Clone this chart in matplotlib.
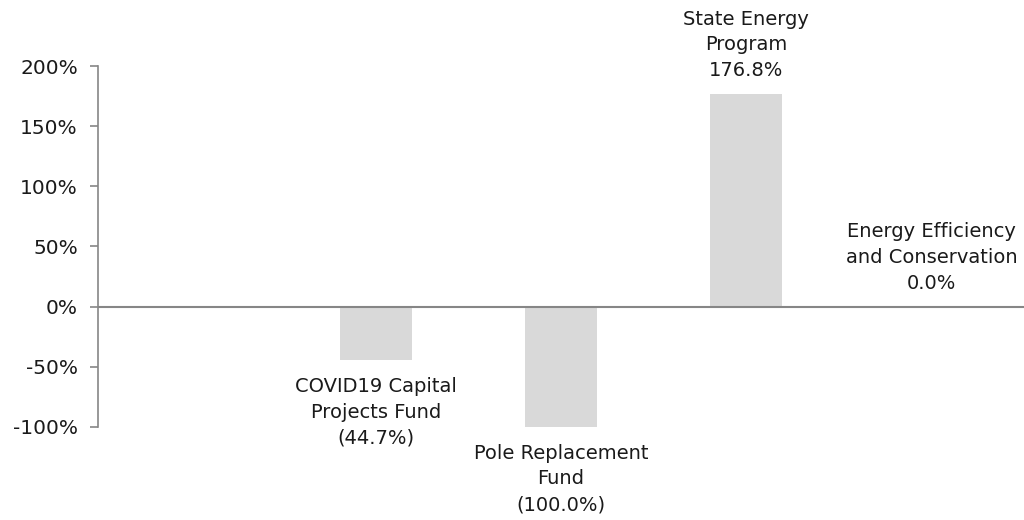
import matplotlib
matplotlib.use("Agg")
import matplotlib.pyplot as plt
from matplotlib.ticker import FuncFormatter

# Data
categories = ["COVID19 Capital\nProjects Fund", "Pole Replacement\nFund",
              "State Energy\nProgram", "Energy Efficiency\nand Conservation"]
pct_change = [-44.7, -100.0, 176.8, 0.0]
yticks = [-100, -50, 0, 50, 100, 150, 200]

plt.rcParams['font.family'] = ['DejaVu Sans']

fig = plt.figure(figsize=(10.24, 5.2), dpi=100)
ax = fig.add_axes([0.0957, 0.179, 0.9043, 0.694])

xs = list(range(len(categories)))
ax.bar(xs, pct_change, width=0.39, color='#d9d9d9', zorder=2)

# value labels: above for non-negative, below for negative
for x, v, name in zip(xs, pct_change, categories):
    val = f"({abs(v):.1f}%)" if v < 0 else f"{v:.1f}%"
    text = f"{name}\n{val}"
    if v < 0:
        ax.annotate(text, (x, v), xytext=(0, -12), textcoords='offset points',
                    ha='center', va='top', fontsize=14, color='#1a1a1a',
                    linespacing=1.45, annotation_clip=False)
    else:
        ax.annotate(text, (x, v), xytext=(0, 10), textcoords='offset points',
                    ha='center', va='bottom', fontsize=14, color='#1a1a1a',
                    linespacing=1.45, annotation_clip=False)

ax.axhline(0, color='#868686', lw=1.5, zorder=3)

ax.set_xlim(-1.5, len(categories) - 0.5)
ax.set_ylim(-100, 200)
ax.set_yticks(yticks)
ax.yaxis.set_major_formatter(FuncFormatter(lambda v, p: f"{v:.0f}%"))
ax.set_xticks([])

for s in ['top', 'right', 'bottom']:
    ax.spines[s].set_visible(False)
ax.spines['left'].set_color('#868686')
ax.spines['left'].set_linewidth(1.2)
ax.tick_params(axis='y', colors='#868686', length=5.5, width=1.2,
               labelsize=14.5, labelcolor='#1a1a1a', pad=9)

fig.savefig("out.png", dpi=100)
